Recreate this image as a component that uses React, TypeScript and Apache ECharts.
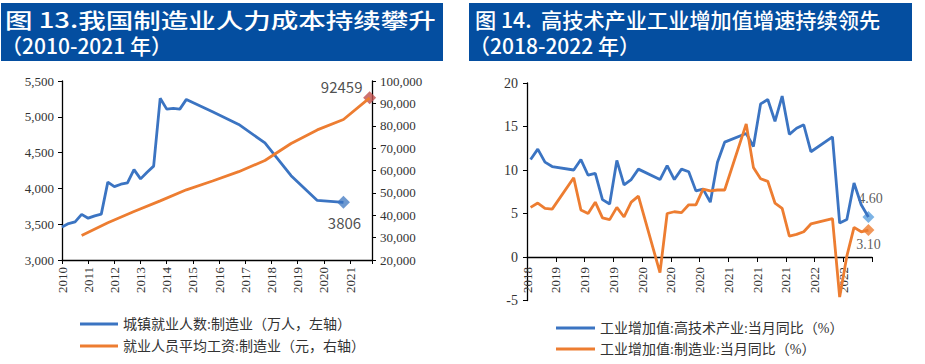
import React, { useEffect, useRef } from 'react';
import * as echarts from 'echarts';

// ---------- Figure 13 data ----------
const empPeriods = [
  '2010Q1', '2010Q2', '2010Q3', '2010Q4', '2011Q1', '2011Q2', '2011Q3', '2011Q4',
  '2012Q1', '2012Q2', '2012Q3', '2012Q4', '2013Q1', '2013Q2', '2013Q3', '2013Q4',
  '2014Q1', '2014Q2', '2014Q3', '2014Q4', '2015Q4', '2016Q4', '2017Q4', '2018Q4',
  '2019Q4', '2020Q4',
];
const employment = [
  3460, 3509, 3533, 3637, 3584, 3617, 3641, 4088,
  4025, 4058, 4076, 4262, 4133, 4226, 4311, 5258,
  5107, 5117, 5107, 5243, 5069, 4894, 4635, 4178,
  3832, 3806,
];
const wagePeriods = [
  '2010Q4', '2011Q4', '2012Q4', '2013Q4', '2014Q4', '2015Q4',
  '2016Q4', '2017Q4', '2018Q4', '2019Q4', '2020Q4', '2021Q4',
];
const wages = [30916, 36665, 41650, 46431, 51369, 55324, 59470, 64452, 72088, 78147, 82783, 92459];

// ---------- Figure 14 data ----------
const months = [
  '2018-09', '2018-10', '2018-11', '2018-12',
  '2019-03', '2019-04', '2019-05', '2019-06', '2019-07', '2019-08', '2019-09', '2019-10', '2019-11', '2019-12',
  '2020-03', '2020-04', '2020-05', '2020-06', '2020-07', '2020-08', '2020-09', '2020-10', '2020-11', '2020-12',
  '2021-03', '2021-04', '2021-05', '2021-06', '2021-07', '2021-08', '2021-09', '2021-10', '2021-11', '2021-12',
  '2022-03', '2022-04', '2022-05', '2022-06', '2022-07', '2022-08',
];
const hiTech = [
  11.2, 12.4, 10.9, 10.4,
  10.0, 11.2, 9.4, 9.6, 6.6, 6.1, 11.1, 8.3, 8.9, 10.1,
  8.9, 10.5, 8.9, 10.1, 9.8, 7.6, 7.8, 6.3, 10.9, 13.2,
  14.2, 12.7, 17.6, 18.1, 15.6, 18.5, 14.1, 14.8, 15.2, 12.1,
  13.8, 3.9, 4.3, 8.5, 6.0, 4.6,
];
const manufacturing = [
  5.7, 6.2, 5.6, 5.5,
  9.1, 5.4, 5.0, 6.3, 4.5, 4.3, 5.7, 4.6, 6.3, 7.0,
  -1.8, 5.0, 5.2, 5.1, 6.0, 6.0, 7.8, 7.6, 7.7, 7.7,
  15.3, 10.3, 9.0, 8.7, 6.2, 5.6, 2.4, 2.6, 2.9, 3.8,
  4.4, -4.6, 0.1, 3.4, 2.9, 3.1,
];

const leftYears = { min: 2010, max: 2021.84 };
const rightAxisMonths = { start: '2018-09', span: 48 };
const rightY = { min: -5, max: 20, interval: 5 };

const NAME_EMP = '城镇就业人数:制造业（万人，左轴）';
const NAME_WAGE = '就业人员平均工资:制造业（元，右轴）';
const NAME_HT = '工业增加值:高技术产业:当月同比（%）';
const NAME_MF = '工业增加值:制造业:当月同比（%）';

const BLUE = '#3b74c2';
const ORANGE = '#ed7d31';
const BAR = '#044ea0';
const SERIF = '"Liberation Serif", "Times New Roman", serif';
const CJK = '"Liberation Serif", "Noto Sans CJK SC", sans-serif';
const SANS = '"Noto Sans CJK SC", "Noto Sans", sans-serif';

const quarterToYear = (p: string) => Number(p.slice(0, 4)) + (Number(p.slice(5)) - 1) * 0.25;
const [startY, startM] = rightAxisMonths.start.split('-').map(Number);
const monthToIdx = (m: string) => {
  const [y, mo] = m.split('-').map(Number);
  return (y - startY) * 12 + (mo - startM) + 0.5;
};

const axisLine = { show: true, onZero: false, lineStyle: { color: '#000', width: 1.3 } };
const axisTick = { show: true, length: 4, lineStyle: { color: '#000', width: 1 } };

// right grid geometry
const G2 = { left: 527, right: 53, top: 83, bottom: 63.5 };
const G2H = 364 - G2.top - G2.bottom;

export default function App() {
  const ref = useRef<HTMLDivElement>(null);
  useEffect(() => {
    if (!ref.current) return;
    const chart = echarts.init(ref.current, undefined, { renderer: 'svg' });
    const empData = empPeriods.map((p, i) => [quarterToYear(p), employment[i]]);
    const wageData = wagePeriods.map((p, i) => [quarterToYear(p), wages[i]]);
    const htData = months.map((m, i) => [monthToIdx(m), hiTech[i]]);
    const mfData = months.map((m, i) => [monthToIdx(m), manufacturing[i]]);
    // x axis sits on the zero line of the right chart
    const zeroOffset = -((0 - rightY.min) / (rightY.max - rightY.min)) * G2H;

    const titleStyle = { fill: '#fff', fontSize: 21, fontFamily: SANS, fontWeight: 500, verticalAlign: 'middle' };

    const option: any = {
      animation: false,
      backgroundColor: '#fff',
      grid: [
        { left: 62, right: 553, top: 81, bottom: 104 },
        G2,
      ],
      xAxis: [
        {
          type: 'value', gridIndex: 0, min: leftYears.min, max: leftYears.max, interval: 1,
          axisLine, axisTick, splitLine: { show: false },
          axisLabel: {
            rotate: 90, fontSize: 13, fontFamily: SERIF, color: '#333', margin: 7,
            formatter: (v: number) => (Number.isInteger(v) ? String(v) : ''),
          },
        },
        {
          type: 'value', gridIndex: 1, min: 0, max: rightAxisMonths.span, interval: 4,
          position: 'bottom', offset: zeroOffset,
          axisLine, axisTick: { ...axisTick, length: 5 }, splitLine: { show: false },
          axisLabel: {
            rotate: 90, fontSize: 13, fontFamily: SERIF, color: '#333', margin: 10,
            formatter: (v: number) => (v >= rightAxisMonths.span ? '' : String(startY + Math.floor((startM - 1 + v) / 12))),
          },
        },
      ],
      yAxis: [
        {
          type: 'value', gridIndex: 0, position: 'left', min: 3000, max: 5500, interval: 500,
          axisLine, axisTick, splitLine: { show: false },
          axisLabel: { fontSize: 13, fontFamily: SERIF, color: '#333', margin: 8, formatter: (v: number) => v.toLocaleString('en-US') },
        },
        {
          type: 'value', gridIndex: 0, position: 'right', min: 20000, max: 100000, interval: 10000,
          axisLine, axisTick, splitLine: { show: false },
          axisLabel: { fontSize: 13, fontFamily: SERIF, color: '#333', margin: 8, formatter: (v: number) => v.toLocaleString('en-US') },
        },
        {
          type: 'value', gridIndex: 1, min: rightY.min, max: rightY.max, interval: rightY.interval,
          axisLine, axisTick, splitLine: { show: false },
          axisLabel: { fontSize: 14, fontFamily: SERIF, color: '#333', margin: 9 },
        },
      ],
      legend: [
        {
          data: [NAME_EMP, NAME_WAGE], left: 75, top: 311, orient: 'vertical', icon: 'rect',
          itemWidth: 38, itemHeight: 3, itemGap: 6, selectedMode: false,
          textStyle: { fontFamily: CJK, fontSize: 14, color: '#333', lineHeight: 16 },
        },
        {
          data: [NAME_HT, NAME_MF], left: 551, top: 315, orient: 'vertical', icon: 'rect',
          itemWidth: 39, itemHeight: 3, itemGap: 5, selectedMode: false,
          textStyle: { fontFamily: CJK, fontSize: 14, color: '#333', lineHeight: 16 },
        },
      ],
      series: [
        {
          name: NAME_EMP, type: 'line', xAxisIndex: 0, yAxisIndex: 0, data: empData,
          symbol: 'none', color: BLUE, lineStyle: { width: 2.8, color: BLUE },
        },
        {
          name: NAME_WAGE, type: 'line', xAxisIndex: 0, yAxisIndex: 1, data: wageData,
          symbol: 'none', color: ORANGE, lineStyle: { width: 2.8, color: ORANGE },
        },
        {
          type: 'scatter', xAxisIndex: 0, yAxisIndex: 0, data: [empData[empData.length - 1]],
          symbol: 'diamond', symbolSize: 13, itemStyle: { color: '#4a80c4' },
          label: { show: true, position: 'inside', offset: [1, 20], fontFamily: SANS, fontSize: 15, color: '#222', formatter: (p: any) => String(p.value[1]) },
        },
        {
          type: 'scatter', xAxisIndex: 0, yAxisIndex: 1, data: [wageData[wageData.length - 1]],
          symbol: 'diamond', symbolSize: 13, itemStyle: { color: '#c0504d' },
          label: { show: true, position: 'inside', offset: [-28, -11], fontFamily: SANS, fontSize: 15, color: '#222', formatter: (p: any) => String(p.value[1]) },
        },
        {
          name: NAME_HT, type: 'line', xAxisIndex: 1, yAxisIndex: 2, data: htData,
          symbol: 'none', color: BLUE, lineStyle: { width: 2.8, color: BLUE },
        },
        {
          name: NAME_MF, type: 'line', xAxisIndex: 1, yAxisIndex: 2, data: mfData,
          symbol: 'none', color: ORANGE, lineStyle: { width: 2.8, color: ORANGE },
        },
        {
          type: 'scatter', xAxisIndex: 1, yAxisIndex: 2, data: [htData[htData.length - 1]],
          symbol: 'diamond', symbolSize: 12, itemStyle: { color: '#5ba0de' },
          label: { show: true, position: 'inside', offset: [2, -18], fontFamily: SERIF, fontSize: 14, color: '#333', formatter: (p: any) => p.value[1].toFixed(2) },
        },
        {
          type: 'scatter', xAxisIndex: 1, yAxisIndex: 2, data: [mfData[mfData.length - 1]],
          symbol: 'diamond', symbolSize: 12, itemStyle: { color: ORANGE },
          label: { show: true, position: 'inside', offset: [0, 14], fontFamily: SERIF, fontSize: 14, color: '#333', formatter: (p: any) => p.value[1].toFixed(2) },
        },
      ],
      graphic: [
        { type: 'rect', shape: { x: 1, y: 3, width: 442, height: 58 }, style: { fill: BAR } },
        { type: 'rect', shape: { x: 469, y: 3, width: 443, height: 58 }, style: { fill: BAR } },
        { type: 'text', x: 5, y: 19, scaleX: 1.31, style: { ...titleStyle, text: '图 13.我国制造业人力成本持续攀升' } },
        { type: 'text', x: 1, y: 45, style: { ...titleStyle, text: '（2010-2021 年）' } },
        { type: 'text', x: 475, y: 19, scaleX: 1.01, style: { ...titleStyle, text: '图 14.  高技术产业工业增加值增速持续领先' } },
        { type: 'text', x: 469, y: 45, style: { ...titleStyle, text: '（2018-2022 年）' } },
      ],
    };
    chart.setOption(option);
    return () => chart.dispose();
  }, []);
  return <div ref={ref} style={{ position: 'absolute', left: 0, top: 0, width: 925, height: 364 }} />;
}
